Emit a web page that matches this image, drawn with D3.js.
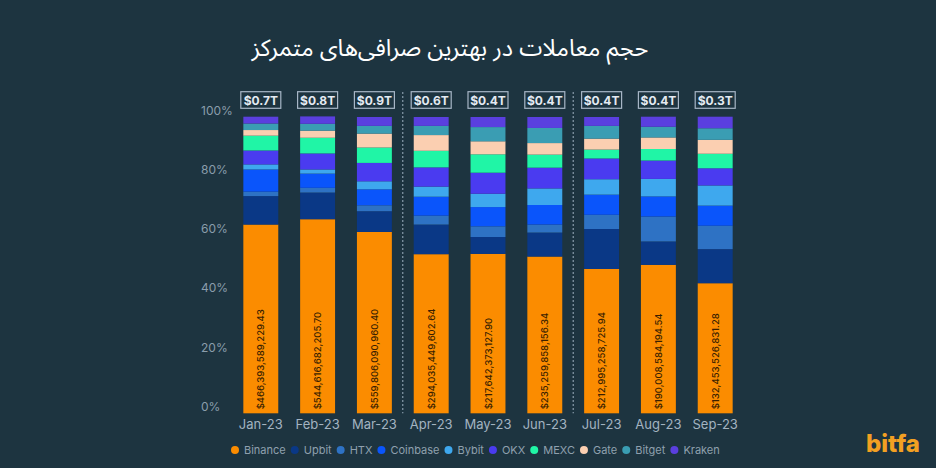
<!DOCTYPE html>
<html>
<head>
<meta charset="utf-8">
<script src="https://cdn.jsdelivr.net/npm/d3@7"></script>
<style>
  html, body { margin: 0; padding: 0; background: #1d3440; }
  svg { display: block; }
</style>
</head>
<body>
<div id="chart"></div>
<script>
const months = ["Jan-23", "Feb-23", "Mar-23", "Apr-23", "May-23", "Jun-23", "Jul-23", "Aug-23", "Sep-23"];
const totals = ["$0.7T", "$0.8T", "$0.9T", "$0.6T", "$0.4T", "$0.4T", "$0.4T", "$0.4T", "$0.3T"];
const binanceVolume = ["$466,393,589,229.43", "$544,616,682,205.70", "$559,806,090,960.40", "$294,035,449,602.64",
    "$217,642,373,127.90", "$235,259,858,156.34", "$212,995,258,725.94", "$190,008,584,194.54", "$132,453,526,831.28"];
const exchanges = ["Binance", "Upbit", "HTX", "Coinbase", "Bybit", "OKX", "MEXC", "Gate", "Bitget", "Kraken"];
const colors = ["#fb8c00", "#0a3886", "#2e72c4", "#0a55fb", "#3ea8ee", "#4a3bf0", "#20f5a6", "#fbcfb1", "#3a9db3", "#5a3fdf"];

// share of each exchange, percent, month by month
const binance  = [63.7, 65.5, 61.2, 53.7, 53.8, 52.9, 48.7, 50.1, 43.9];
const upbit    = [9.6, 9.0, 7.0, 10.0, 5.7, 8.1, 13.5, 7.9, 11.5];
const htx      = [1.5, 1.6, 2.0, 3.0, 3.6, 2.7, 4.8, 8.4, 7.9];
const coinbase = [7.5, 4.8, 5.4, 6.4, 6.5, 6.6, 6.8, 6.8, 6.8];
const bybit    = [1.7, 1.4, 2.7, 3.4, 4.5, 5.6, 5.2, 5.9, 6.8];
const okx      = [4.7, 5.4, 6.2, 6.5, 7.1, 7.0, 7.0, 6.2, 5.8];
const mexc     = [5.0, 5.3, 5.2, 5.6, 6.2, 4.4, 3.0, 3.9, 4.9];
const gate     = [1.9, 2.4, 4.7, 5.3, 4.4, 3.9, 3.7, 3.9, 4.7];
const bitget   = [2.2, 2.3, 2.6, 3.1, 4.8, 5.1, 4.3, 3.6, 3.9];
const kraken   = [2.3, 2.5, 3.0, 3.0, 3.4, 3.7, 3.0, 3.4, 3.9];
const series = [binance, upbit, htx, coinbase, bybit, okx, mexc, gate, bitget, kraken];
const yTicks = [0, 20, 40, 60, 80, 100];

const W = 936, H = 468;
const font = "Inter, 'Noto Sans', sans-serif";

const svg = d3.select("#chart").append("svg")
    .attr("width", W)
    .attr("height", H)
    .style("background", "#1d3440");

const rows = months.map((m, i) => {
    let r = { month: m };
    exchanges.forEach((e, k) => { r[e] = series[k][i]; });
    return r;
});

const x = d3.scaleBand().domain(months).range([232.4, 743.6]).paddingInner(0.385).paddingOuter(0.1925);
const y = d3.scaleLinear().domain([0, 100]).range([413.3, 117]);

// title
svg.append("text")
    .attr("x", 450)
    .attr("y", 56)
    .attr("text-anchor", "middle")
    .attr("direction", "rtl")
    .attr("font-family", "'Noto Sans Arabic', 'DejaVu Sans', sans-serif")
    .attr("font-size", 23.5)
    .attr("fill", "#ffffff")
    .text("حجم معاملات در بهترین صرافی‌های متمرکز");

// y tick labels
svg.append("g")
    .selectAll("text")
    .data(yTicks)
    .enter()
    .append("text")
    .attr("x", 201)
    .attr("y", d => y(d) - 2.5)
    .attr("font-family", font)
    .attr("font-size", 12)
    .attr("fill", "#8a9dab")
    .text(d => d + "%");

// separators between quarters
[["Mar-23", "Apr-23"], ["Jun-23", "Jul-23"]].forEach(p => {
    let xm = (x(p[0]) + x.bandwidth() + x(p[1])) / 2;
    svg.append("line")
        .attr("x1", xm).attr("x2", xm)
        .attr("y1", 92).attr("y2", y(0))
        .attr("stroke", "#9fb1c0")
        .attr("stroke-width", 1)
        .attr("stroke-dasharray", "2,2");
});

// stacked bars
const stack = d3.stack().keys(exchanges)(rows);
svg.append("g")
    .selectAll("g")
    .data(stack)
    .enter()
    .append("g")
    .attr("fill", (d, i) => colors[i])
    .selectAll("rect")
    .data(d => d)
    .enter()
    .append("rect")
    .attr("x", d => x(d.data.month))
    .attr("width", x.bandwidth())
    .attr("y", d => y(d[1]))
    .attr("height", d => y(d[0]) - y(d[1]));

// Binance volume inside the orange bar
svg.append("g")
    .selectAll("text")
    .data(months)
    .enter()
    .append("text")
    .attr("transform", (d, i) => `translate(${x(d) + x.bandwidth() / 2},${y(0) - 4}) rotate(-90)`)
    .attr("dominant-baseline", "central")
    .attr("font-family", font)
    .attr("font-size", 9.5)
    .attr("font-weight", 500)
    .attr("fill", "#3a1f00")
    .text((d, i) => binanceVolume[i]);

// total boxes above each bar
const tops = svg.append("g")
    .selectAll("g")
    .data(months)
    .enter()
    .append("g")
    .attr("transform", d => `translate(${x(d) + x.bandwidth() / 2},100)`);

tops.append("rect")
    .attr("x", -20)
    .attr("y", -8.3)
    .attr("width", 40)
    .attr("height", 16.6)
    .attr("fill", "none")
    .attr("stroke", "#a7b6c6")
    .attr("stroke-width", 1.2);

tops.append("text")
    .attr("text-anchor", "middle")
    .attr("dominant-baseline", "central")
    .attr("font-family", font)
    .attr("font-size", 12)
    .attr("font-weight", 700)
    .attr("fill", "#e4eaf2")
    .text((d, i) => totals[i]);

// x labels
svg.append("g")
    .selectAll("text")
    .data(months)
    .enter()
    .append("text")
    .attr("x", d => x(d) + x.bandwidth() / 2)
    .attr("y", 429)
    .attr("text-anchor", "middle")
    .attr("font-family", font)
    .attr("font-size", 13)
    .attr("fill", "#a3b3c1")
    .text(d => d);

// legend
const legend = svg.append("g");
let lx = 235;
exchanges.forEach((e, i) => {
    legend.append("circle")
        .attr("cx", lx)
        .attr("cy", 450)
        .attr("r", 4)
        .attr("fill", colors[i]);
    let t = legend.append("text")
        .attr("x", lx + 9)
        .attr("y", 450)
        .attr("dominant-baseline", "central")
        .attr("font-family", font)
        .attr("font-size", 11)
        .attr("fill", "#8fa0ae")
        .text(e);
    lx += 9 + t.node().getComputedTextLength() + 9;
});

// logo
svg.append("text")
    .attr("x", 866)
    .attr("y", 452)
    .attr("font-family", font)
    .attr("font-size", 24)
    .attr("font-weight", 800)
    .attr("fill", "#f3a022")
    .text("bitfa");
</script>
</body>
</html>
